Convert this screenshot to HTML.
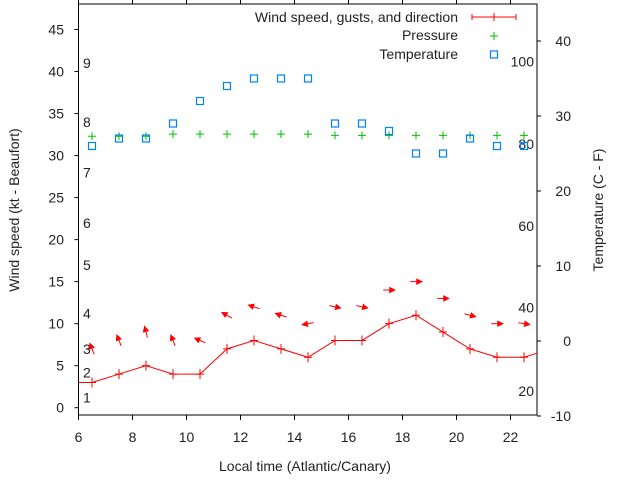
<!DOCTYPE html>
<html><head><meta charset="utf-8">
<style>
html,body{margin:0;padding:0;background:#fff;}
svg{display:block;font-family:"Liberation Sans",sans-serif;}
text{font-size:14px;fill:#222;}
</style></head>
<body>
<svg id="chart" width="640" height="480" viewBox="0 0 640 480" xmlns="http://www.w3.org/2000/svg"></svg>
<script>
const hours = [6.5,7.5,8.5,9.5,10.5,11.5,12.5,13.5,14.5,15.5,16.5,17.5,18.5,19.5,20.5,21.5,22.5];
const windSpeed = [3,4,5,4,4,7,8,7,6,8,8,10,11,9,7,6,6];
const windBefore = [5.5,3];
const windAfter = [23.5,7];
const gusts = [7,8,9,8,8,11,12,11,10,12,12,14,15,13,11,10,10];
const heading = [338,338,346,338,294,299,288,288,260,102,102,90,90,90,104,90,99];
const pressure = [32.3,32.3,32.3,32.55,32.55,32.55,32.55,32.55,32.55,32.4,32.4,32.4,32.4,32.4,32.4,32.4,32.4];
const temperature = [26,27,27,29,32,34,35,35,35,29,29,28,25,25,27,26,26];
const xTicks = [6,8,10,12,14,16,18,20,22];
const yTicks = [0,5,10,15,20,25,30,35,40,45];
const y2Ticks = [-10,0,10,20,30,40];
const beaufortLabels = ["1","2","3","4","5","6","7","8","9"];
const beaufortKt = [1.2,4.2,7.0,11.2,17,22,28,34,41];
const fahrenheitLabels = ["20","40","60","80","100"];
const fahrenheitKt = [2,11.9,21.6,31.4,41.2];

const L=78.5,R=537,T=4,B=415;
const X = v => L + (v-6)*27;
const Y = v => 407.7 - v*(407.7-29.5)/45;
const Y2 = v => 341 - v*7.5;
const svg = document.getElementById('chart');
const NS='http://www.w3.org/2000/svg';
function mk(tag, attrs, parent){
  const e=document.createElementNS(NS,tag);
  for(const k in attrs) e.setAttribute(k,attrs[k]);
  (parent||svg).appendChild(e); return e;
}
// clip
const defs=mk('defs',{});
const cp=mk('clipPath',{id:'plotclip'},defs);
mk('rect',{x:L,y:T,width:R-L,height:B-T},cp);

// axes ticks
xTicks.forEach(t=>{
  const g=mk('line',{x1:X(t),x2:X(t),y1:B,y2:B+5,stroke:'#000'});
  
  
  const g2=mk('line',{x1:X(t),x2:X(t),y1:T,y2:T-4,stroke:'#000'});
  
  
  const tx=mk('text',{x:X(t),y:442,'text-anchor':'middle'}); tx.textContent=t;
  
  
});
yTicks.forEach(t=>{
  const l=mk('line',{x1:L-4,x2:L,y1:Y(t),y2:Y(t),stroke:'#000'});
  
  
  const tx=mk('text',{x:64,y:Y(t)+5,'text-anchor':'end'}); tx.textContent=t;
  
  
});
y2Ticks.forEach(t=>{
  const l=mk('line',{x1:R,x2:R+4,y1:Y2(t),y2:Y2(t),stroke:'#000'});
  
  
  const tx=mk('text',{x:571,y:Y2(t)+5,'text-anchor':'end'}); tx.textContent=t;
  
  
});
beaufortLabels.forEach((s,i)=>{
  const tx=mk('text',{x:83,y:Y(beaufortKt[i])+5}); tx.textContent=s;
  
  
});
fahrenheitLabels.forEach((s,i)=>{
  const tx=mk('text',{x:534,y:Y(fahrenheitKt[i])+5,'text-anchor':'end'}); tx.textContent=s;
  
  
});
// border
const bd=mk('rect',{x:L,y:T,width:R-L,height:B-T,fill:'none',stroke:'#000'});



const plot=mk('g',{'clip-path':'url(#plotclip)'});


// pressure
hours.forEach((h,i)=>{
  const x=X(h),y=Y(pressure[i]);
  const p=mk('path',{d:`M${x-4},${y}H${x+4}M${x},${y-4}V${y+4}`,stroke:'#00c000',fill:'none'},plot);
  
  
});
// temperature
hours.forEach((h,i)=>{
  const r=mk('rect',{x:X(h)-3.5,y:Y2(temperature[i])-3.5,width:7,height:7,fill:'none',stroke:'#0080ff','stroke-width':1.2},plot);
  
  
});
// wind line
let pts=[[X(windBefore[0]),Y(windBefore[1])]];
hours.forEach((h,i)=>pts.push([X(h),Y(windSpeed[i])]));
pts.push([X(windAfter[0]),Y(windAfter[1])]);
const wl=mk('polyline',{points:pts.map(p=>p.join(',')).join(' '),fill:'none',stroke:'#f00'},plot);


hours.forEach((h,i)=>{
  const x=X(h),y=Y(windSpeed[i]);
  const p=mk('path',{d:`M${x-4},${y}H${x+4}M${x},${y-5}V${y+5}`,stroke:'#f00'},plot);
  
  
});
// arrows
hours.forEach((h,i)=>{
  const cx=X(h),cy=Y(gusts[i]),a=heading[i]*Math.PI/180,len=11.5;
  const dx=Math.sin(a),dy=-Math.cos(a);
  const hx=cx+dx*len/2,hy=cy+dy*len/2,tx=cx-dx*len/2,ty=cy-dy*len/2;
  const px=-dy,py=dx;
  const bx=hx-dx*5,by=hy-dy*5;
  const g=mk('g',{},plot);
  
  
  mk('line',{x1:tx,y1:ty,x2:hx,y2:hy,stroke:'#f00'},g);
  mk('polygon',{points:`${hx},${hy} ${bx+px*2.5},${by+py*2.5} ${bx-px*2.5},${by-py*2.5}`,fill:'#f00',stroke:'#f00'},g);
});
// legend
const lg=mk('g',{});


const l1=mk('text',{x:458,y:22,'text-anchor':'end'},lg); l1.textContent='Wind speed, gusts, and direction';
mk('path',{d:'M472,17H516M472,14V20M494,13V21M516,14V20',stroke:'#f00',fill:'none'},lg);
const l2=mk('text',{x:458,y:40,'text-anchor':'end'},lg); l2.textContent='Pressure';
mk('path',{d:'M490,36H498M494,32V40',stroke:'#00c000',fill:'none'},lg);
const l3=mk('text',{x:458,y:59,'text-anchor':'end'},lg); l3.textContent='Temperature';
mk('rect',{x:490.5,y:51,width:7,height:7,fill:'none',stroke:'#0080ff','stroke-width':1.2},lg);
// titles
const xt=mk('text',{x:305,y:471,'text-anchor':'middle'}); xt.textContent='Local time (Atlantic/Canary)';


const yt=mk('text',{x:0,y:0,'text-anchor':'middle',transform:'translate(19,210) rotate(-90)'}); yt.textContent='Wind speed (kt - Beaufort)';


const y2t=mk('text',{x:0,y:0,'text-anchor':'middle',transform:'translate(603,210) rotate(-90)'}); y2t.textContent='Temperature (C - F)';


</script>
</body></html>
